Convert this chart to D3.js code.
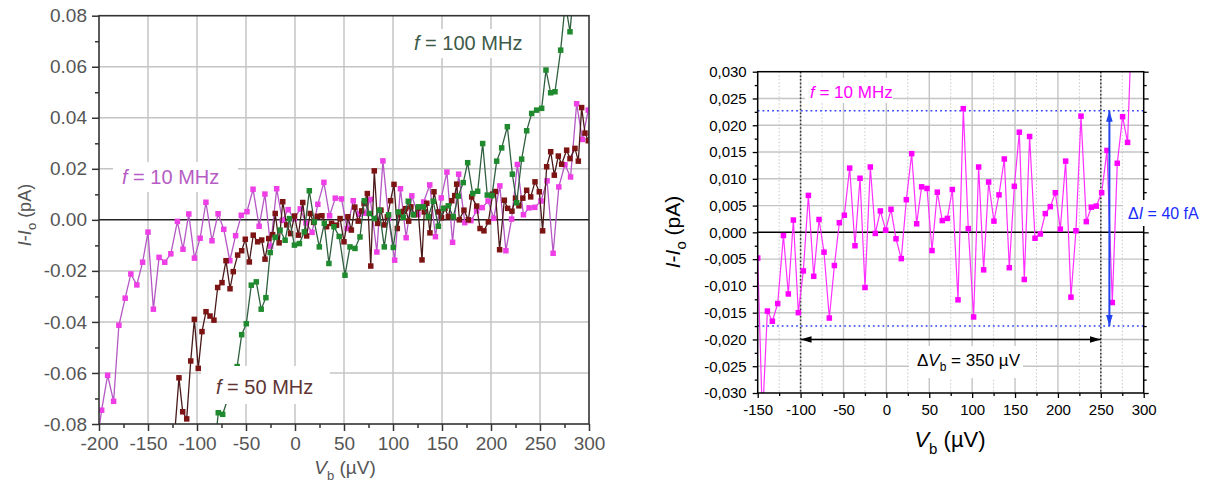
<!DOCTYPE html>
<html><head><meta charset="utf-8">
<script src="https://cdn.jsdelivr.net/npm/d3@7"></script>
<style>body{margin:0;background:#fff}svg{display:block}text{font-family:Arial,"Liberation Sans",sans-serif}</style>
</head><body>
<svg id="c" width="1209" height="485"></svg>
<script>
// ---------- DATA ----------
// f = 10 MHz (shared by both panels)
const vb10 = [-203.2,-197.3,-191.2,-185.1,-179.7,-173.3,-167.5,-161.4,-155.5,-150,-144.5,-138.7,-132.9,-126.7,-120,-114.3,-108.4,-102.6,-96.8,-90.9,-84.7,-78.5,-72.7,-66.5,-60.6,-54.8,-49,-42.8,-36.6,-30.7,-24.9,-18.7,-12.9,-7,-0.8,5.4,11.2,17.4,23.3,29.5,35.3,41.1,47.4,53.2,59.4,65.2,71.1,76.9,83.5,89.7,95.5,101.7,107.6,113.4,119.2,125.4,131.3,137.5,143.3,149.2,155,160.8,167,173.3,179.5,185.3,191.1,197,202.8,209,215.2,221,226.9,233.1,238.9,244.7,251,257.2,263.4,269.2,275.4,281.2,287.4,293.3,299.2,305];
const i10 = [-0.09,-0.0746,-0.0609,-0.0711,-0.0413,-0.0307,-0.0212,-0.0255,-0.0166,-0.0048,-0.035,-0.0147,-0.0166,-0.0133,-0.0006,-0.0115,0.0023,-0.015,-0.0072,0.0069,-0.0082,0.0024,-0.0037,-0.016,-0.0062,0.0018,0.0032,0.012,-0.0025,0.0101,-0.0103,0.0122,-0.0002,0.004,0.0004,0.0043,-0.0012,-0.0049,0.0061,0.0147,0.0016,0.0085,0.0082,-0.0034,0.0075,0.0022,0.0026,0.008,-0.0126,0.0231,0.0007,-0.0158,0.0122,-0.007,0.0094,0.0021,0.007,0.0137,-0.0066,0.0086,0.0187,-0.0088,0.0179,-0.0011,-0.0003,0.0035,0.0048,0.0074,0.0006,0.0133,-0.0121,0.0003,0.0217,0.002,0.0047,0.0049,0.0074,0.0153,-0.0131,0.0129,0.0216,0.0168,0.0455,0.0315,0.043,0.05];
// f = 50 MHz
const vb50 = [-124,-118.4,-114.6,-110.5,-106.4,-102.7,-98.7,-94.9,-90.8,-86.7,-82.7,-78.9,-74.5,-70.4,-66.3,-63,-58.5,-54.4,-50.7,-46.6,-42.6,-38.1,-34,-30.6,-26.8,-22.8,-20.2,-16.2,-12.5,-8.5,-4.5,-0.5,3.5,7.9,11.9,15.5,19,22.7,27.5,32.2,37.3,42.4,46,50,54,57.5,61,64.5,68,70.5,73.8,77.3,80.9,84.3,87.7,91,94.2,97.5,101,104.4,107.5,110.5,112.9,116,118.3,122,125.5,129.6,131.9,134.5,137.7,141.8,146.2,149.5,153,156.5,160,163,165,167.7,172.4,176.9,180.3,185.4,188.8,192.8,197.3,201.7,204.4,208.8,213.6,217,221.4,225,228.5,232.5,236.4,240.5,244.9,249.3,252.7,256.8,260.9,264.6,268.7,272.1,277.2,280.6,285.7,289.1,292.5,295.9,299.3,303];
const i50 = [-0.09,-0.0619,-0.0752,-0.078,-0.0553,-0.039,-0.0582,-0.0438,-0.036,-0.0377,-0.0393,-0.0265,-0.0246,-0.016,-0.027,-0.0203,-0.0138,-0.0121,-0.0076,-0.0165,-0.006,-0.0086,-0.0079,-0.0154,-0.0073,-0.0058,0.0025,-0.009,0.0071,-0.002,-0.0054,0.0015,-0.006,0.0068,-0.0063,0.0025,-0.001,0.0014,0.0016,-0.0027,-0.0014,-0.0021,0.0005,-0.0086,0.0012,-0.004,0.005,-0.0005,0.0035,0.0064,0.0103,-0.0181,0.0192,-0.0014,0.0038,-0.002,0.0012,0.0075,0.0139,-0.0034,0.002,0.0033,0.0044,-0.0005,0.0051,0.002,0.0045,-0.0157,0.0031,0.0065,-0.0051,0.011,0.0031,0.0008,0.0045,0.0012,0.0075,0.0095,0.014,0,0.0038,0,0.009,0.0054,-0.0034,-0.0043,-0.0008,0.0101,0.0111,-0.0117,0.0077,0.0045,0.0034,0.0085,0.0055,0.0085,0.0116,0.009,0.0149,0.011,-0.0043,0.0208,0.0267,0.0175,0.025,0.0218,0.0273,0.024,0.028,0.023,0.044,0.034,0.031,0.052];
// f = 100 MHz
const vb100 = [-82,-78.3,-73.8,-68.5,-63.8,-59,-54.4,-49.7,-44.6,-39.5,-34.5,-29.7,-25.3,-20.2,-15.2,-10.1,-5.7,-0.6,4.5,9.5,14.6,19.7,24.8,29.9,34.6,39.7,45.1,51,56.1,61.2,66.3,70.7,75.8,80.9,86,91.1,95.5,100.3,105.4,110.5,115.6,120.7,125.8,130.9,136,141.1,146.2,151.3,156.4,161.5,166.6,171.7,176.2,181.3,186.4,191.5,196.2,201,205.8,210.9,216.7,221.8,226.2,231.3,236.4,241.5,246.6,251.7,256.1,260.9,265.3,271.1,275.8,280.6,285.5];
const i100 = [-0.09,-0.0756,-0.0762,-0.07,-0.0635,-0.0575,-0.045,-0.0407,-0.0256,-0.0243,-0.035,-0.0305,-0.0128,-0.0069,-0.004,-0.008,0.0005,-0.0099,-0.0093,-0.0047,0.0114,-0.0008,-0.0106,-0.0014,-0.0171,-0.0027,-0.0065,-0.0217,-0.0106,-0.0112,-0.0067,0.0075,0.0025,0.0005,0.0038,-0.0106,0.002,-0.0108,0.0031,0.001,0.0073,0.002,0.0051,0.0051,0.0012,0.0073,-0.0025,0.0045,0.0055,0.0012,0.0093,0.0146,0.0224,0.0103,0.0112,0.0299,0.0097,0.0095,0.023,0.0282,0.0365,0.0179,0.0067,0.0238,0.0349,0.0417,0.043,0.0437,0.0587,0.0498,0.0502,0.0665,0.085,0.0737,0.095];
// ticks
const xTicksL = [-200,-150,-100,-50,0,50,100,150,200,250,300];
const yTicksL = [-0.08,-0.06,-0.04,-0.02,0,0.02,0.04,0.06,0.08];
const xTicksR = [-150,-100,-50,0,50,100,150,200,250,300];
const yTicksR = [-0.03,-0.025,-0.02,-0.015,-0.01,-0.005,0,0.005,0.01,0.015,0.02,0.025,0.03];
// annotation values
const dIlevels = [0.0227,-0.0175];
const dVlimits = [-100,250];
const arrowY = -0.02, arrowX = 260;

// ---------- DRAW ----------
const svg = d3.select("#c");
const defs = svg.append("defs");
function zip(a,b){return a.map((v,i)=>[v,b[i]]);}

// ===== LEFT PANEL =====
const xL = d3.scaleLinear([-200,300],[99,589]);
const yL = d3.scaleLinear([-0.08,0.08],[424,15.7]);
const gL = svg.append("g");
defs.append("clipPath").attr("id","clipL").append("rect")
  .attr("x",99).attr("y",15.7).attr("width",490).attr("height",408.3);
// grid
gL.append("g").selectAll("line").data(xTicksL.slice(1,-1)).join("line")
  .attr("x1",d=>xL(d)).attr("x2",d=>xL(d)).attr("y1",15.7).attr("y2",424)
  .attr("stroke","#c4c4c4").attr("stroke-width",1.5);
gL.append("g").selectAll("line").data(yTicksL.slice(1,-1).filter(d=>d!==0)).join("line")
  .attr("y1",d=>yL(d)).attr("y2",d=>yL(d)).attr("x1",99).attr("x2",589)
  .attr("stroke","#c4c4c4").attr("stroke-width",1.5);
gL.append("line").attr("x1",99).attr("x2",589).attr("y1",yL(0)).attr("y2",yL(0))
  .attr("stroke","#222").attr("stroke-width",1.5);
// series
const line = (xs,ys)=>d3.line().x(d=>xs(d[0])).y(d=>ys(d[1]));
function series(g,xs,ys,pts,lc,mc,sz,lw,clip){
  const gg=g.append("g").attr("clip-path",`url(#${clip})`);
  gg.append("path").datum(pts).attr("d",line(xs,ys)).attr("fill","none")
    .attr("stroke",lc).attr("stroke-width",lw);
  gg.selectAll("rect").data(pts).join("rect")
    .attr("x",d=>xs(d[0])-sz/2).attr("y",d=>ys(d[1])-sz/2)
    .attr("width",sz).attr("height",sz).attr("fill",mc);
}
series(gL,xL,yL,zip(vb10,i10),"#b557c4","#ee3ee6",5.5,1.3,"clipL");
series(gL,xL,yL,zip(vb50,i50),"#4a1a1a","#7d1414",5.5,1.3,"clipL");
series(gL,xL,yL,zip(vb100,i100),"#2f5f3f","#1f8a2e",5.5,1.3,"clipL");
// frame
gL.append("rect").attr("x",99).attr("y",15.7).attr("width",490).attr("height",408.3)
  .attr("fill","none").attr("stroke","#333").attr("stroke-width",1.6);
// axes
const fmtL = d=> (d<0?"-":"") + Math.abs(d).toFixed(2);
const axL = gL.append("g").attr("transform","translate(99,0)")
  .call(d3.axisLeft(yL).tickValues(yTicksL).tickFormat(fmtL).tickSize(7).tickPadding(5));
const axLm = gL.append("g").attr("transform","translate(99,0)")
  .call(d3.axisLeft(yL).tickValues(d3.range(-0.07,0.08,0.02)).tickFormat("").tickSize(4));
const axB = gL.append("g").attr("transform","translate(0,424)")
  .call(d3.axisBottom(xL).tickValues(xTicksL).tickFormat(d=>(d<0?"-":"")+Math.abs(d)).tickSize(7).tickPadding(6));
const axBm = gL.append("g").attr("transform","translate(0,424)")
  .call(d3.axisBottom(xL).tickValues(d3.range(-175,300,50)).tickFormat("").tickSize(4));
[axL,axLm,axB,axBm].forEach(a=>{a.select(".domain").remove();
  a.selectAll("line").attr("stroke","#333").attr("stroke-width",1.5);
  a.selectAll("text").attr("fill","#555").attr("font-size",19).attr("font-family","Arial, Liberation Sans, sans-serif");});
// axis titles
const ylabL = gL.append("text").attr("transform","translate(31,215) rotate(-90)")
  .attr("text-anchor","middle").attr("fill","#555").attr("font-size",18);
ylabL.append("tspan").attr("font-style","italic").text("I");
ylabL.append("tspan").text("-");
ylabL.append("tspan").attr("font-style","italic").text("I");
ylabL.append("tspan").attr("font-size",13).attr("dy",5).text("o");
ylabL.append("tspan").attr("dy",-5).text(" (pA)");
const xlabL = gL.append("text").attr("x",345).attr("y",474)
  .attr("text-anchor","middle").attr("fill","#555").attr("font-size",19);
xlabL.append("tspan").attr("font-style","italic").text("V");
xlabL.append("tspan").attr("font-size",13).attr("dy",6).text("b");
xlabL.append("tspan").attr("dy",-6).text(" (µV)");
// labels with white boxes
function boxLabel(g,x0,y0,w,h,tx,ty,parts,color,size){
  g.append("rect").attr("x",x0).attr("y",y0).attr("width",w).attr("height",h).attr("fill","#fff");
  const t=g.append("text").attr("x",tx).attr("y",ty).attr("fill",color).attr("font-size",size);
  parts.forEach(p=>{const s=t.append("tspan").text(p.t);
    if(p.i)s.attr("font-style","italic"); if(p.fs)s.attr("font-size",p.fs); if(p.dy)s.attr("dy",p.dy);});
  return t;
}
boxLabel(gL,113,162,125,30,122,184,[{t:"f",i:1},{t:" = 10 MHz"}],"#b65cc4",20);
boxLabel(gL,404,29,132,29,414,50,[{t:"f",i:1},{t:" = 100 MHz"}],"#3d5a48",20);
boxLabel(gL,201,366,129,38,216,394,[{t:"f",i:1},{t:" = 50 MHz"}],"#5e3434",20);

// ===== RIGHT PANEL =====
const xR = d3.scaleLinear([-150,300],[757.7,1143.7]);
const yR = d3.scaleLinear([-0.03,0.03],[393,71.7]);
const gR = svg.append("g");
defs.append("clipPath").attr("id","clipR").append("rect")
  .attr("x",757.7).attr("y",71.7).attr("width",386).attr("height",321.3);
// grid
gR.append("g").selectAll("line").data(d3.range(-125,300,50)).join("line")
  .attr("x1",d=>xR(d)).attr("x2",d=>xR(d)).attr("y1",71.7).attr("y2",393)
  .attr("stroke","#c8c8c8").attr("stroke-width",1).attr("stroke-dasharray","1.5,2");
gR.append("g").selectAll("line").data(xTicksR.slice(1,-1)).join("line")
  .attr("x1",d=>xR(d)).attr("x2",d=>xR(d)).attr("y1",71.7).attr("y2",393)
  .attr("stroke","#c4c4c4").attr("stroke-width",1.4);
gR.append("g").selectAll("line").data(yTicksR.slice(1,-1).filter(d=>d!==0)).join("line")
  .attr("y1",d=>yR(d)).attr("y2",d=>yR(d)).attr("x1",757.7).attr("x2",1143.7)
  .attr("stroke","#c4c4c4").attr("stroke-width",1.4);
gR.append("line").attr("x1",757.7).attr("x2",1143.7).attr("y1",yR(0)).attr("y2",yR(0))
  .attr("stroke","#000").attr("stroke-width",1.5);
// black dotted vertical limits
gR.append("g").selectAll("line").data(dVlimits).join("line")
  .attr("x1",d=>xR(d)).attr("x2",d=>xR(d)).attr("y1",71.7).attr("y2",393)
  .attr("stroke","#333").attr("stroke-width",1.5).attr("stroke-dasharray","1.5,2.2");
// blue dotted levels
gR.append("g").selectAll("line").data(dIlevels).join("line")
  .attr("y1",d=>yR(d)).attr("y2",d=>yR(d)).attr("x1",757.7).attr("x2",1143.7)
  .attr("stroke","#3344ff").attr("stroke-width",1.5).attr("stroke-dasharray","1.8,3");
// data
series(gR,xR,yR,zip(vb10,i10),"#ff30ff","#ff00ff",5.5,1.2,"clipR");
// frame
gR.append("rect").attr("x",757.7).attr("y",71.7).attr("width",386).attr("height",321.3)
  .attr("fill","none").attr("stroke","#000").attr("stroke-width",1.5);
const fmtR = d3.formatLocale({decimal:",",thousands:".",grouping:[3],currency:["",""],minus:"-"}).format(".3f");
const rA = gR.append("g").attr("transform","translate(757.7,0)")
  .call(d3.axisLeft(yR).tickValues(yTicksR).tickFormat(fmtR).tickSize(5).tickPadding(6));
const rAm = gR.append("g").attr("transform","translate(757.7,0)")
  .call(d3.axisLeft(yR).tickValues(d3.range(-0.0275,0.03,0.005)).tickFormat("").tickSize(3));
const rAr = gR.append("g").attr("transform","translate(1143.7,0)")
  .call(d3.axisRight(yR).tickValues(yTicksR).tickFormat("").tickSize(5));
const rArm = gR.append("g").attr("transform","translate(1143.7,0)")
  .call(d3.axisRight(yR).tickValues(d3.range(-0.0275,0.03,0.005)).tickFormat("").tickSize(3));
const rB = gR.append("g").attr("transform","translate(0,393)")
  .call(d3.axisBottom(xR).tickValues(xTicksR).tickFormat(d=>(d<0?"-":"")+Math.abs(d)).tickSize(5).tickPadding(6));
const rBm = gR.append("g").attr("transform","translate(0,393)")
  .call(d3.axisBottom(xR).tickValues(d3.range(-125,300,50)).tickFormat("").tickSize(3));
[rA,rAm,rAr,rArm,rB,rBm].forEach(a=>{a.select(".domain").remove();
  a.selectAll("line").attr("stroke","#000").attr("stroke-width",1.3);
  a.selectAll("text").attr("fill","#000").attr("font-size",15).attr("font-family","Arial, Liberation Sans, sans-serif");});
// titles
const ylabR = gR.append("text").attr("transform","translate(680,232) rotate(-90)")
  .attr("text-anchor","middle").attr("fill","#000").attr("font-size",21);
ylabR.append("tspan").attr("font-style","italic").text("I");
ylabR.append("tspan").text("-");
ylabR.append("tspan").attr("font-style","italic").text("I");
ylabR.append("tspan").attr("font-size",15).attr("dy",6).text("o");
ylabR.append("tspan").attr("dy",-6).text(" (pA)");
const xlabR = gR.append("text").attr("x",950).attr("y",447)
  .attr("text-anchor","middle").attr("fill","#000").attr("font-size",22);
xlabR.append("tspan").attr("font-style","italic").text("V");
xlabR.append("tspan").attr("font-size",15).attr("dy",7).text("b");
xlabR.append("tspan").attr("dy",-7).text(" (µV)");
// arrow markers
function mk(id,color){
  const m=defs.append("marker").attr("id",id).attr("viewBox","0 0 10 6").attr("refX",10).attr("refY",3)
    .attr("markerUnits","userSpaceOnUse").attr("markerWidth",11).attr("markerHeight",7).attr("orient","auto-start-reverse");
  m.append("path").attr("d","M0,0 L10,3 L0,6 Z").attr("fill",color);
}
mk("ak","#000"); mk("ab","#2244ee");
gR.append("line").attr("x1",xR(dVlimits[0])).attr("x2",xR(dVlimits[1]))
  .attr("y1",yR(arrowY)).attr("y2",yR(arrowY)).attr("stroke","#000").attr("stroke-width",1.5)
  .attr("marker-start","url(#ak)").attr("marker-end","url(#ak)");
gR.append("line").attr("x1",xR(arrowX)).attr("x2",xR(arrowX))
  .attr("y1",yR(dIlevels[0])).attr("y2",yR(dIlevels[1])).attr("stroke","#2244ee").attr("stroke-width",2)
  .attr("marker-start","url(#ab)").attr("marker-end","url(#ab)");
// labels
boxLabel(gR,805,78,88,25,810,98,[{t:"f",i:1},{t:" = 10 MHz"}],"#ff00ff",17);
boxLabel(gR,909,346,114,32,917,366,[{t:"Δ"},{t:"V",i:1},{t:"b",fs:12,dy:5},{t:" = 350 µV",dy:-5}],"#000",17);
boxLabel(gR,1123,200,82,26,1128,219,[{t:"Δ"},{t:"I",i:1},{t:" = 40 fA"}],"#1a2bff",16);
</script>
</body></html>
